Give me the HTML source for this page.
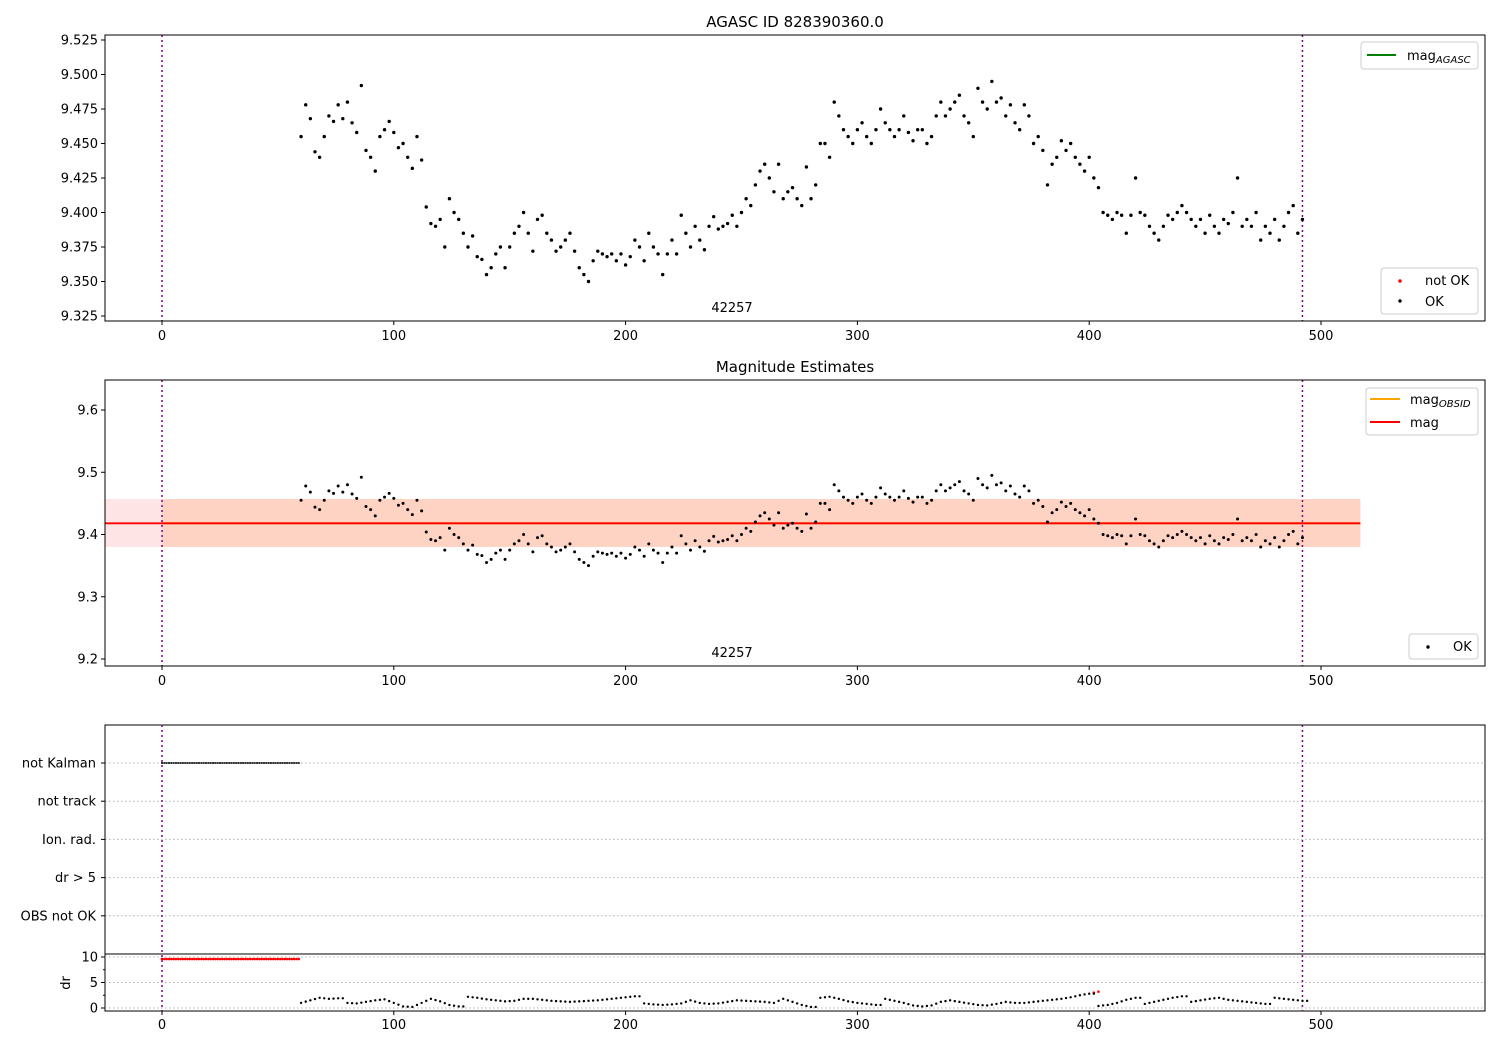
<!DOCTYPE html>
<html><head><meta charset="utf-8"><style>
body{margin:0;background:#fff}
svg{font-family:"DejaVu Sans","Liberation Sans",sans-serif}
</style></head><body>
<svg id="c" width="1500" height="1050" viewBox="0 0 1500 1050" xmlns="http://www.w3.org/2000/svg">
<rect width="1500" height="1050" fill="#fff"/>
</svg>
<script>
const magStart = 60;
const magStep = 2;
const magValues = [9.455,9.478,9.468,9.444,9.44,9.455,9.47,9.466,9.478,9.468,9.48,9.465,9.458,9.492,9.445,9.44,9.43,9.455,9.46,9.466,9.458,9.447,9.45,9.44,9.432,9.455,9.438,
9.404,9.392,9.39,9.395,9.375,9.41,9.4,9.395,9.385,9.375,9.383,9.368,9.366,9.355,9.36,9.37,9.375,9.36,9.375,
9.385,9.39,9.4,9.385,9.372,9.395,9.398,9.385,9.38,9.372,9.375,9.38,9.385,9.372,9.36,9.355,9.35,9.365,9.372,9.37,
9.368,9.37,9.365,9.37,9.362,9.368,9.38,9.375,9.365,9.385,9.375,9.37,9.355,9.37,9.38,9.37,9.398,9.385,9.375,9.39,9.38,9.373,9.39,9.397,9.388,
9.39,9.392,9.398,9.39,9.4,9.41,9.405,9.42,9.43,9.435,9.425,9.415,9.435,9.41,9.415,9.418,9.41,9.405,9.433,9.41,9.42,9.45,9.45,9.44,9.48,
9.47,9.46,9.455,9.45,9.46,9.465,9.455,9.45,9.46,9.475,9.465,9.46,9.455,9.46,9.47,9.458,9.452,9.46,9.46,9.45,9.455,9.47,9.48,9.47,9.475,
9.48,9.485,9.47,9.465,9.455,9.49,9.48,9.475,9.495,9.48,9.483,9.47,9.478,9.465,9.46,9.478,9.47,9.45,9.455,9.445,9.42,9.435,9.44,9.452,9.445,
9.45,9.44,9.435,9.43,9.44,9.425,9.418,9.4,9.398,9.395,9.4,9.398,9.385,9.398,9.425,9.4,9.398,9.39,9.385,9.38,9.39,9.398,9.395,9.4,9.405,
9.4,9.395,9.39,9.395,9.385,9.398,9.39,9.385,9.395,9.392,9.4,9.425,9.39,9.395,9.39,9.4,9.38,9.39,9.385,9.395,9.38,9.39,9.4,9.405,9.385,9.395];
const drStart = 60;
const drStep = 4;
const drValues = [1.0,1.5,2.0,1.8,1.9,1.0,0.9,1.2,1.5,1.7,1.0,0.3,0.2,1.0,1.8,1.3,0.6,0.3,2.2,2.0,1.7,1.5,1.3,1.4,1.8,1.8,1.6,1.4,1.3,1.2,1.3,1.4,1.5,1.7,1.9,2.1,2.3,0.9,0.7,0.6,0.7,0.9,1.5,1.0,0.8,0.9,1.2,1.5,1.4,1.3,1.2,1.0,1.8,1.2,0.6,0.2,2.0,2.2,1.8,1.3,1.0,0.8,0.6,1.8,1.4,1.0,0.5,0.3,0.5,1.2,1.5,1.2,0.9,0.6,0.5,0.8,1.2,1.0,1.0,1.2,1.4,1.6,1.8,2.1,2.5,2.8,0.4,0.6,1.0,1.6,2.0,0.8,1.2,1.6,2.0,2.3,1.2,1.5,1.8,2.0,1.6,1.4,1.2,1.0,0.8,2.0,1.8,1.6,1.4];
const flagRows = ["not Kalman","not track","Ion. rad.","dr > 5","OBS not OK"];
const xTicks = [0,100,200,300,400,500];
const y1Ticks = [9.325,9.35,9.375,9.4,9.425,9.45,9.475,9.5,9.525];
const y2Ticks = [9.2,9.3,9.4,9.5,9.6];
const drTicks = [0,5,10];
const magMean = 9.418, magLo = 9.380, magHi = 9.457;
const obsStart = 0, obsEnd = 492, bandEnd = 517;

const NS="http://www.w3.org/2000/svg", svg=document.getElementById('c');
function el(t,a,p){const e=document.createElementNS(NS,t);for(const k in a)e.setAttribute(k,a[k]);(p||svg).appendChild(e);return e;}
const L=105,R=1485;
const X=v=>162+v*(1321-162)/500;
const Y1=v=>316-(v-9.325)*(276/0.2);
const Y2=v=>659-(v-9.2)*(249/0.4);
const YD=v=>1008-v*(51/10);

function frame(top,bot,name){
  const r=el('rect',{x:L,y:top,width:R-L,height:bot-top,fill:'none',stroke:'#000','stroke-width':1});
  
}
function xAxis(bot,ly,name){
  const g=el('g',{});
  xTicks.forEach(t=>{el('line',{x1:X(t),x2:X(t),y1:bot,y2:bot+4,stroke:'#000'},g);
    const tx=el('text',{x:X(t),y:ly,'font-size':13,'text-anchor':'middle'},g);tx.textContent=t;});
}
function yAxis(ticks,f,name,fmt){
  const g=el('g',{});
  ticks.forEach(t=>{el('line',{x1:L-4,x2:L,y1:f(t),y2:f(t),stroke:'#000'},g);
    const tx=el('text',{x:L-7,y:f(t)+4.5,'font-size':13,'text-anchor':'end'},g);tx.textContent=fmt(t);});
}
function vlines(top,bot){
  [obsStart,obsEnd].forEach(v=>{const l=el('line',{x1:X(v),x2:X(v),y1:top,y2:bot,stroke:'#800080','stroke-width':1.5,'stroke-dasharray':'2,3'});
    });
}
function text(x,y,s,size,anchor,name){const t=el('text',{x,y,'font-size':size,'text-anchor':anchor||'middle'});t.textContent=s;
  return t;}

// Panel 1
text(795,27,'AGASC ID 828390360.0',15,'middle','panel1-title');
vlines(35,321);
const g1=el('g',{});
magValues.forEach((v,i)=>{const c=el('circle',{cx:X(magStart+i*magStep),cy:Y1(v),r:1.7,fill:'#000'},g1);
  });
frame(35,321,'panel1-axes');xAxis(321,340,'panel1-x-axis');
yAxis(y1Ticks,Y1,'panel1-y-axis',t=>t.toFixed(3));
text(732,312,'42257',13,'middle','panel1-obsid-label');
let lg=el('g',{});
el('rect',{x:1361,y:42,width:117,height:27,rx:3,fill:'#fff',stroke:'#ccc'},lg);
el('line',{x1:1367,x2:1396,y1:55,y2:55,stroke:'#008000','stroke-width':2},lg);
let tt=el('text',{x:1407,y:60,'font-size':13},lg);tt.innerHTML='mag<tspan font-size="10" font-style="italic" dy="3">AGASC</tspan>';
lg=el('g',{});
el('rect',{x:1381,y:268,width:97,height:46,rx:3,fill:'#fff',stroke:'#ccc'},lg);
el('circle',{cx:1400,cy:281,r:1.7,fill:'red'},lg);el('circle',{cx:1400,cy:301,r:1.7,fill:'#000'},lg);
tt=el('text',{x:1425,y:285,'font-size':13},lg);tt.textContent='not OK';
tt=el('text',{x:1425,y:306,'font-size':13},lg);tt.textContent='OK';

// Panel 2
text(795,372,'Magnitude Estimates',15,'middle','panel2-title');
let b=el('rect',{x:L,y:Y2(magHi),width:X(bandEnd)-L,height:Y2(magLo)-Y2(magHi),fill:'rgba(255,0,0,0.1)'});

b=el('rect',{x:X(obsStart),y:Y2(magHi),width:X(bandEnd)-X(obsStart),height:Y2(magLo)-Y2(magHi),fill:'rgba(255,140,60,0.2)'});

b=el('line',{x1:X(obsStart),x2:X(bandEnd),y1:Y2(magMean),y2:Y2(magMean),stroke:'orange','stroke-width':2});

b=el('line',{x1:L,x2:X(bandEnd),y1:Y2(magMean),y2:Y2(magMean),stroke:'red','stroke-width':1.8});

vlines(380,666);
const g2=el('g',{});
magValues.forEach((v,i)=>{const c=el('circle',{cx:X(magStart+i*magStep),cy:Y2(v),r:1.5,fill:'#000'},g2);
  });
frame(380,666,'panel2-axes');xAxis(666,685,'panel2-x-axis');
yAxis(y2Ticks,Y2,'panel2-y-axis',t=>t.toFixed(1));
text(732,657,'42257',13,'middle','panel2-obsid-label');
lg=el('g',{});
el('rect',{x:1366,y:388,width:112,height:47,rx:3,fill:'#fff',stroke:'#ccc'},lg);
el('line',{x1:1370,x2:1400,y1:399,y2:399,stroke:'orange','stroke-width':2},lg);
el('line',{x1:1370,x2:1400,y1:422,y2:422,stroke:'red','stroke-width':2},lg);
tt=el('text',{x:1410,y:404,'font-size':13},lg);tt.innerHTML='mag<tspan font-size="10" font-style="italic" dy="3">OBSID</tspan>';
tt=el('text',{x:1410,y:427,'font-size':13},lg);tt.textContent='mag';
lg=el('g',{});
el('rect',{x:1409,y:634,width:69,height:25,rx:3,fill:'#fff',stroke:'#ccc'},lg);
el('circle',{cx:1428,cy:647,r:1.7,fill:'#000'},lg);
tt=el('text',{x:1453,y:651,'font-size':13},lg);tt.textContent='OK';

// Panel 3 flags
const rowY=i=>763+i*38.2;
const gf=el('g',{});
flagRows.forEach((r,i)=>{el('line',{x1:L,x2:R,y1:rowY(i),y2:rowY(i),stroke:'#b0b0b0','stroke-dasharray':'1.5,2.5'},gf);
  el('line',{x1:L-4,x2:L,y1:rowY(i),y2:rowY(i),stroke:'#000'},gf);
  const t=el('text',{x:L-9,y:rowY(i)+4.5,'font-size':13,'text-anchor':'end'},gf);t.textContent=r;});
const gk=el('g',{});
for(let v=obsStart;v<magStart;v+=1){el('rect',{x:X(v)-1,y:rowY(0)-1,width:2,height:2,fill:'#333'},gk);}
frame(725,1011,'panel3-axes');
el('line',{x1:L,x2:R,y1:954,y2:954,stroke:'#000'});
drTicks.forEach(t=>el('line',{x1:L,x2:R,y1:YD(t),y2:YD(t),stroke:'#b0b0b0','stroke-dasharray':'1.5,2.5'}));
yAxis(drTicks,YD,'dr-y-axis',t=>t);
[2.5,7.5].forEach(t=>el('line',{x1:L-2,x2:L,y1:YD(t),y2:YD(t),stroke:'#000'}));
tt=el('text',{x:0,y:0,'font-size':13,'text-anchor':'middle',transform:'translate(70,983) rotate(-90)'});tt.textContent='dr';

vlines(725,1011);
const gr=el('g',{});
for(let v=obsStart;v<magStart;v+=1){el('circle',{cx:X(v),cy:YD(9.6),r:1.3,fill:'red'},gr);}
el('circle',{cx:X(402),cy:YD(3.0),r:1.3,fill:'red'},gr);el('circle',{cx:X(404),cy:YD(3.2),r:1.3,fill:'red'},gr);
const gd=el('g',{});
drValues.forEach((v,i)=>{const x0=drStart+i*drStep;const nv=drValues[i+1]!==undefined?drValues[i+1]:v;
  for(let k=0;k<drStep;k+=2){const vv=Math.abs(nv-v)>0.8?v:v+(nv-v)*k/drStep;
    const c=el('circle',{cx:X(x0+k),cy:YD(vv),r:1.2,fill:'#000'},gd);
    }});
xAxis(1011,1029,'panel3-x-axis');
</script>
</body></html>
